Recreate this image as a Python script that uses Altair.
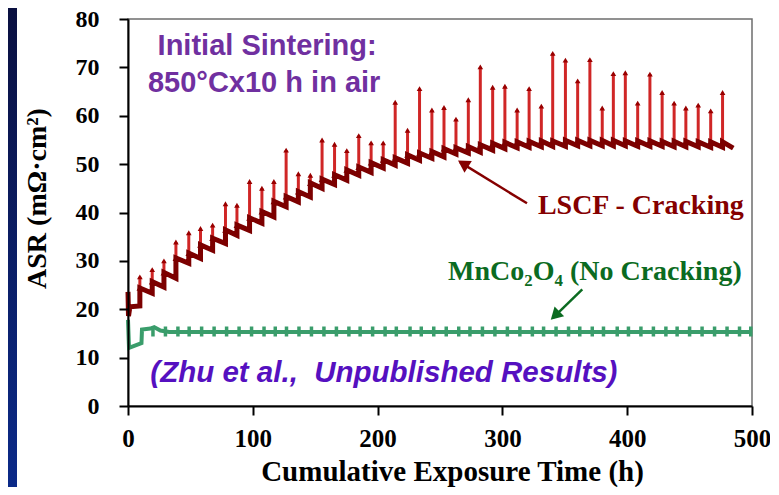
import altair as alt
import pandas as pd

# ---------------- data ----------------
# LSCF: time of each thermal-cycle spike (h), spike top, level just before the spike,
# level just after the spike (ASR, mOhm.cm2)
spike_t = [9.5, 19.4, 28.8, 38.4, 48.7, 58.1, 67.8, 78.1, 87.3, 97.4,
           107.3, 116.9, 126.7, 136.5, 146.1, 155.5, 165.5, 175.3, 184.9, 194.8,
           204.5, 214.1, 224.0, 233.6, 243.5, 253.2, 262.8, 272.7, 282.3, 292.2,
           302.0, 311.8, 321.4, 331.2, 340.3, 350.5, 360.3, 370.1, 380.0, 388.9,
           398.5, 408.4, 418.2, 428.0, 437.6, 447.0, 456.9, 466.9, 476.4]
spike_peak = [26.7, 28.2, 30.0, 33.9, 35.8, 36.7, 37.4, 41.8, 41.5, 46.4,
              45.0, 46.4, 52.9, 48.0, 47.7, 55.0, 54.1, 52.8, 55.9, 54.4,
              54.4, 62.8, 57.0, 65.6, 61.2, 61.7, 59.3, 63.3, 70.1, 65.9,
              66.1, 61.2, 65.6, 62.0, 72.9, 71.5, 67.2, 71.6, 61.6, 68.7,
              68.9, 62.6, 68.6, 64.8, 62.6, 61.6, 62.2, 61.0, 64.8]
trough = [20.7, 23.3, 24.6, 26.4, 29.5, 30.5, 32.2, 33.6, 35.3, 36.3,
          37.8, 39.1, 41.2, 42.2, 43.2, 45.0, 45.8, 46.7, 47.7, 48.3,
          49.2, 49.8, 50.2, 50.8, 51.2, 51.5, 52.1, 52.3, 52.5, 52.9,
          53.2, 53.4, 53.5, 53.6, 53.7, 53.7, 53.8, 53.8, 53.8, 53.8,
          53.8, 53.7, 53.7, 53.7, 53.6, 53.6, 53.6, 53.5, 53.5]
post = [24.4, 25.7, 27.6, 30.6, 31.6, 33.3, 34.7, 36.4, 37.4, 38.9,
        40.2, 42.3, 43.3, 44.3, 46.1, 46.9, 47.8, 48.8, 49.4, 50.3,
        50.9, 51.3, 51.9, 52.3, 52.6, 53.2, 53.4, 53.6, 54.0, 54.3,
        54.5, 54.6, 54.7, 54.8, 54.8, 54.9, 54.9, 54.9, 54.9, 54.9,
        54.8, 54.8, 54.8, 54.7, 54.7, 54.7, 54.6, 54.6, 54.6]
lscf_start_t = [0.0, 0.4, 1.5]
lscf_start_v = [23.6, 18.6, 20.5]
lscf_end_t = [485.0]
lscf_end_v = [53.3]

# MnCo2O4
green_t = [0.0, 0.8, 10.8, 11.2, 18.0, 21.0, 26.0, 33.0, 500.0]
green_v = [17.8, 12.0, 13.0, 15.8, 16.0, 16.3, 15.6, 15.3, 15.3]
bump_t = [20, 30, 40, 49, 59, 69, 79, 89, 99, 109, 118, 127, 137, 147, 157,
          167, 177, 186, 196, 206, 215, 226, 235, 245, 255, 265, 274, 284, 294,
          304, 314, 324, 333, 343, 353, 362, 372, 381, 392, 401, 411, 421, 431,
          440, 450, 460, 470, 480, 490, 499]
bump_v = [15.4] * len(bump_t)

# annotations (data coordinates)
arrow_x0 = [319.7, 364.0]
arrow_y0 = [41.9, 24.1]
arrow_x1 = [266.0, 340.5]
arrow_y1 = [50.4, 18.2]
arrow_head_x = [268.5, 342.2]
arrow_head_y = [50.1, 18.7]
arrow_angle = [302, 226]
arrow_color = ["#850000", "#0B6B21"]

x_ticks = [0, 100, 200, 300, 400, 500]
y_ticks = [0, 10, 20, 30, 40, 50, 60, 70, 80]

# ---------------- tables ----------------
band_t, band_v = list(lscf_start_t), list(lscf_start_v)
for t, a, b in zip(spike_t, trough, post):
    band_t += [t, t]
    band_v += [a, b]
band_t += lscf_end_t
band_v += lscf_end_v
band = pd.DataFrame({"t": band_t, "v": band_v, "o": list(range(len(band_t)))})
spikes = pd.DataFrame({"t": spike_t, "v": post, "v2": spike_peak})
peaks = pd.DataFrame({"t": spike_t, "v": spike_peak})
bases = pd.DataFrame({"t": spike_t, "v": post})
green = pd.DataFrame({"t": green_t, "v": green_v, "o": list(range(len(green_t)))})
bumps = pd.DataFrame({"t": bump_t, "v": bump_v})
arrows = pd.DataFrame({"t": arrow_x0, "v": arrow_y0, "t2": arrow_x1, "v2": arrow_y1,
                       "c": arrow_color})
heads = pd.DataFrame({"t": arrow_head_x, "v": arrow_head_y, "a": arrow_angle,
                      "c": arrow_color})

W, H = 624, 387

xs = alt.Scale(domain=[0, 500], nice=False)
ys = alt.Scale(domain=[0, 80], nice=False)

x_axis = alt.Axis(values=x_ticks, grid=False, title="Cumulative Exposure Time (h)",
                  labelFont="Liberation Serif", labelFontWeight="bold", labelFontSize=25,
                  labelColor="black", labelPadding=11, tickSize=9, tickWidth=2,
                  tickColor="black", domainColor="black", domainWidth=2,
                  titleFont="Liberation Serif", titleFontWeight="bold", titleFontSize=29,
                  titleColor="black", titleX=324, titleY=74, titleBaseline="alphabetic",
                  titleAlign="center", labelFlush=False, zindex=1)
y_axis = alt.Axis(values=y_ticks, grid=False, title="ASR (mΩ·cm²)",
                  labelFont="Liberation Serif", labelFontWeight="bold", labelFontSize=24,
                  labelColor="black", labelPadding=20, tickSize=9, tickWidth=2,
                  tickColor="black", domainColor="black", domainWidth=2,
                  titleFont="Liberation Serif", titleFontWeight="bold", titleFontSize=28,
                  titleColor="black", titleX=-83, titleY=179, titleBaseline="alphabetic",
                  titleAlign="center", titleAngle=270, labelFlush=False, zindex=1)

X = alt.X("t:Q", scale=xs, axis=x_axis)
Y = alt.Y("v:Q", scale=ys, axis=y_axis)

# navy strip of the slide background at the left edge
strip = alt.Chart(pd.DataFrame({"k": [0]})).mark_rect(
    color=alt.Gradient(gradient="linear", x1=0, x2=0, y1=0, y2=1,
                       stops=[alt.GradientStop(color="#0A1040", offset=0),
                              alt.GradientStop(color="#0B2A88", offset=1)])
).encode(x=alt.value(-120), x2=alt.value(-111), y=alt.value(-11), y2=alt.value(H + 81))

spike_layer = alt.Chart(spikes).mark_rule(color="#C80000", strokeWidth=3, opacity=0.85).encode(
    x=X, y=Y, y2="v2:Q")
peak_layer = alt.Chart(peaks).mark_point(shape="triangle-up", filled=True, size=32,
                                         color="#990000", opacity=1).encode(x=X, y=Y)
band_layer = alt.Chart(band).mark_line(color="#7C0000", strokeWidth=5).encode(
    x=X, y=Y, order="o:Q")
base_layer = alt.Chart(bases).mark_point(shape="triangle-up", filled=True, size=45,
                                         color="#7C0000", opacity=1).encode(x=X, y=Y)
green_layer = alt.Chart(green).mark_line(color="#3A9D6B", strokeWidth=4).encode(
    x=X, y=Y, order="o:Q")
bump_layer = alt.Chart(bumps).mark_tick(color="#3A9D6B", orient="vertical", size=10,
                                        thickness=3.5, opacity=1).encode(x=X, y=Y)
arrow_layer = alt.Chart(arrows).mark_rule(strokeWidth=2.5).encode(
    x=X, y=Y, x2="t2:Q", y2="v2:Q", color=alt.Color("c:N", scale=None))
head_layer = alt.Chart(heads).mark_point(shape="triangle-up", filled=True, size=190,
                                         opacity=1).encode(
    x=X, y=Y, angle=alt.Angle("a:Q", scale=None), color=alt.Color("c:N", scale=None))


def label(text, t, v, color, font, size, align, style="normal", weight="bold"):
    return alt.Chart(pd.DataFrame({"t": [t], "v": [v], "s": [text]})).mark_text(
        font=font, fontSize=size, fontWeight=weight, fontStyle=style, color=color,
        align=align, baseline="alphabetic").encode(x=X, y=Y, text="s:N")


texts = [
    label("Initial Sintering:", 111.5, 72.6, "#7030A0", "Liberation Sans", 29, "center"),
    label("850°Cx10 h in air", 109.1, 64.9, "#7030A0", "Liberation Sans", 29, "center"),
    label("(Zhu et al., \u00a0Unpublished Results)", 17.9, 4.9, "#5510C0",
          "Liberation Sans", 29.5, "left", style="italic"),
    label("LSCF - Cracking", 493.4, 39.6, "#850000", "Liberation Serif", 28, "right"),
    label("MnCo₂O₄ (No Cracking)", 491.8, 26.1, "#0B6B21", "Liberation Serif", 28, "right"),
]

chart = alt.layer(
    spike_layer, strip, band_layer, base_layer, peak_layer, green_layer, bump_layer,
    arrow_layer, head_layer, *texts
).properties(
    width=W, height=H,
    autosize=alt.AutoSizeParams(type="none"),
    padding={"left": 120, "top": 11, "right": 18, "bottom": 81},
    background="white",
).configure_view(stroke="#6E6E6E", strokeWidth=1.5)

chart.save("out.html", embed_options={"renderer": "svg", "actions": False})
